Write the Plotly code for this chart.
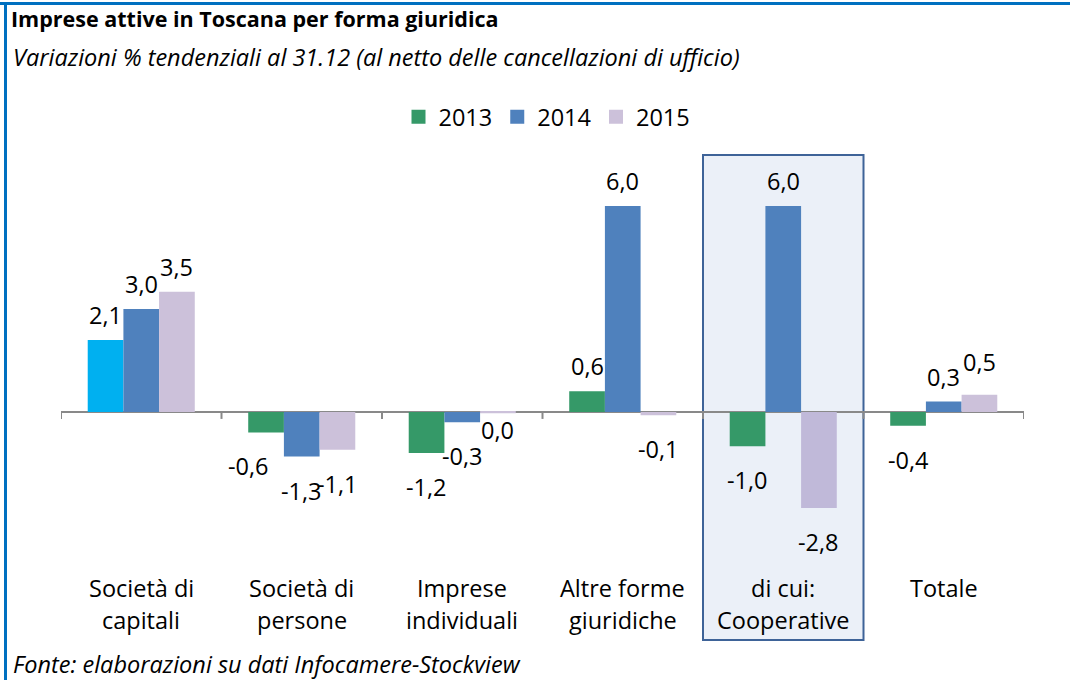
import plotly.graph_objects as go

# ---------------- data ----------------
categories = ["Società di\ncapitali", "Società di\npersone", "Imprese\nindividuali",
              "Altre forme\ngiuridiche", "di cui:\nCooperative", "Totale"]
years = ["2013", "2014", "2015"]
v2013 = [2.1, -0.6, -1.2, 0.6, -1.0, -0.4]
v2014 = [3.0, -1.3, -0.3, 6.0, 6.0, 0.3]
v2015 = [3.5, -1.1, -0.04, -0.1, -2.8, 0.5]
series = [v2013, v2014, v2015]

title = "Imprese attive in Toscana per forma giuridica"
subtitle = "Variazioni % tendenziali al 31.12 (al netto delle cancellazioni di ufficio)"
source = "Fonte: elaborazioni su dati Infocamere-Stockview"
highlight_idx = 4  # "di cui: Cooperative"

# ---------------- style ----------------
FONT = "Open Sans, Lato, sans-serif"
FS = 23.5
FS_IT = 23.5
GREEN, CYAN, BLUE, LAV, LAV_DARK = "#359968", "#00B0F0", "#4F81BD", "#CCC1DA", "#C0B9D9"
series_colors = [
    [CYAN] + [GREEN] * 5,
    [BLUE] * 6,
    [LAV] * 4 + [LAV_DARK] + [LAV],
]
legend_colors = [GREEN, BLUE, LAV]

W, H = 1070, 680
ML, MR, MT, MB = 61, 46, 155, 40
PW, PH = W - ML - MR, H - MT - MB


def px_x(x):
    return (x - ML) / PW


def px_y(y):
    return (H - MB - y) / PH


# nudges (pixels) for individual data labels: (series, category) -> (dx, dy)
label_nudge = {(0, 1): (-18, 0), (2, 2): (0, 17), (2, 5): (0, 8)}

fig = go.Figure()
n = len(categories)
xs = list(range(n))
for s, (name, vals) in enumerate(zip(years, series)):
    fig.add_trace(go.Bar(
        x=xs, y=vals, name=name, showlegend=False,
        marker=dict(color=series_colors[s], line=dict(width=0)),
        hoverinfo="skip",
    ))
    # legend proxy (square marker)
    fig.add_trace(go.Scatter(
        x=[None], y=[None], mode="markers", name=name,
        marker=dict(symbol="square", size=14, color=legend_colors[s]),
    ))

# data labels
bar_w = (1 - 0.333) / 3
annotations = []
for s, vals in enumerate(series):
    off = (s - 1) * bar_w
    for i, v in enumerate(vals):
        txt = f"{v:.1f}".replace(".", ",")
        if txt == "-0,0":
            txt = "0,0"
        dx, dy = label_nudge.get((s, i), (0, 0))
        annotations.append(dict(
            x=i + off, y=v, xref="x", yref="y", text=txt, showarrow=False,
            xanchor="center", yanchor="middle",
            yshift=(25 if v > 0 else -34) + dy, xshift=dx,
            font=dict(family=FONT, size=FS, color="#000000"),
        ))

# category labels (two lines)
for i, c in enumerate(categories):
    lines = c.split("\n")
    for k, line in enumerate(lines):
        annotations.append(dict(
            x=i, y=px_y(588 + 32 * k), xref="x", yref="paper", text=line,
            showarrow=False, xanchor="center", yanchor="middle",
            font=dict(family=FONT, size=FS, color="#000000"),
        ))

# subtitle and source
annotations.append(dict(
    x=px_x(11), y=px_y(57), xref="paper", yref="paper",
    text=f"<i>{subtitle}</i>", showarrow=False, xanchor="left", yanchor="middle",
    font=dict(family=FONT, size=FS_IT, color="#000000"),
))
annotations.append(dict(
    x=px_x(11), y=px_y(664), xref="paper", yref="paper",
    text=f"<i>{source}</i>", showarrow=False, xanchor="left", yanchor="middle",
    font=dict(family=FONT, size=FS_IT, color="#000000"),
))

shapes = []
# highlight box
shapes.append(dict(
    type="rect", xref="x", yref="paper",
    x0=highlight_idx - 0.5, x1=highlight_idx + 0.5, y0=0, y1=1,
    fillcolor="#EBF0F8", line=dict(color="#3E6398", width=2), layer="below",
))
# category boundary tick marks on the zero axis
for b in range(n + 1):
    shapes.append(dict(
        type="line", xref="x", yref="y", x0=b - 0.5, x1=b - 0.5,
        ysizemode="pixel", yanchor=0, y0=0, y1=-7,
        line=dict(color="#898989", width=2),
    ))
# outer frame (top and left)
shapes.append(dict(type="line", xref="paper", yref="paper",
                   x0=px_x(0), x1=px_x(W), y0=px_y(3.5), y1=px_y(3.5),
                   line=dict(color="#0070C0", width=3)))
shapes.append(dict(type="line", xref="paper", yref="paper",
                   x0=px_x(5.5), x1=px_x(5.5), y0=px_y(2), y1=px_y(H),
                   line=dict(color="#0070C0", width=3)))

fig.update_layout(
    width=W, height=H,
    margin=dict(l=ML, r=MR, t=MT, b=MB),
    paper_bgcolor="white", plot_bgcolor="rgba(0,0,0,0)",
    barmode="group", bargap=0.333, bargroupgap=0,
    font=dict(family=FONT, size=FS, color="#000000"),
    title=dict(text=f"<b>{title}</b>", x=11 / W, xanchor="left",
               y=1 - 19 / H, yanchor="middle",
               font=dict(family=FONT, size=21.5, color="#000000")),
    legend=dict(orientation="h", x=px_x(547), xanchor="center",
                y=px_y(117), yanchor="middle",
                font=dict(family=FONT, size=FS, color="#000000"),
                itemwidth=30, bgcolor="rgba(0,0,0,0)"),
    xaxis=dict(range=[-0.5, n - 0.5], showticklabels=False, showgrid=False,
               zeroline=False, showline=False, ticks=""),
    yaxis=dict(range=[-6.65, 7.49], showticklabels=False, showgrid=False,
               zeroline=True, zerolinecolor="#898989", zerolinewidth=2,
               showline=False, ticks=""),
    annotations=annotations,
    shapes=shapes,
    showlegend=True,
)

fig.write_html("out.html", config={"displayModeBar": False},
               post_script="document.body.style.margin='0';")
